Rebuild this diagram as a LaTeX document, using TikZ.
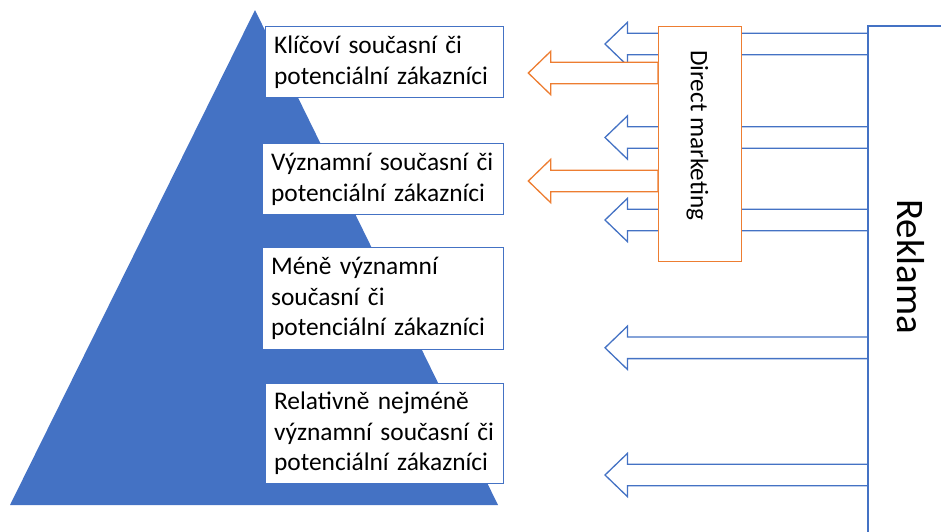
\documentclass[tikz,border=0pt]{standalone}
\usepackage{fontspec}
\setmainfont{Carlito}
\newfontfamily\tierfont{Carlito}[WordSpace=0.6]
\definecolor{oblue}{HTML}{4472C4}
\definecolor{oorange}{HTML}{ED7D31}
\tikzset{
  tier/.style={draw=oblue, fill=white, line width=1.2pt, anchor=north west,
    inner xsep=8.5pt, inner ysep=0pt, align=left,
    font=\tierfont\fontsize{25.4}{30.5}\selectfont},
  dmbox/.style={draw=oorange, fill=white, line width=1.3pt, anchor=north west,
    inner sep=0pt, minimum width=83pt, minimum height=235pt},
  barrow/.style={draw=oblue, fill=white, line width=1.3pt, line join=miter},
  oarrow/.style={draw=oorange, fill=white, line width=1.3pt, line join=miter}
}
\newcommand\blockarrow[5]{% style, tipx, cy, basex, rightx
  \draw[#1] (#2,#3) -- (#4,#3-21.7) -- (#4,#3-10.8) -- (#5,#3-10.8)
    -- (#5,#3+10.8) -- (#4,#3+10.8) -- (#4,#3+21.7) -- cycle;}
\begin{document}
\begin{tikzpicture}[x=1pt,y=-1pt]
\useasboundingbox (0,0) rectangle (941,531);
% pyramid
\fill[oblue] (255,10) -- (498,505) -- (10,505) -- cycle;
% tiers
\node[tier, text width=221pt, minimum height=71pt] (t1) at (265,26)
  {Klíčoví současní či\\potenciální zákazníci};
\node[tier, text width=224pt, minimum height=71pt] (t2) at (262,143)
  {Významní současní či\\potenciální zákazníci};
\node[tier, text width=224pt, minimum height=102pt] (t3) at (262,247)
  {Méně významní\\současní či\\potenciální zákazníci};
\node[tier, text width=221pt, minimum height=100pt] (t4) at (265,383)
  {Relativně nejméně\\významní současní či\\potenciální zákazníci};
% blue (advertising) arrows
\blockarrow{barrow}{605}{44}{627.5}{868}
\blockarrow{barrow}{605}{137.5}{627.5}{868}
\blockarrow{barrow}{605}{220}{627.5}{868}
\blockarrow{barrow}{605}{347.8}{627.5}{868}
\blockarrow{barrow}{605}{475}{627.5}{868}
% Reklama frame
\draw[oblue, line width=1.3pt] (945,26) -- (868,26) -- (868,535);
\node[rotate=-90, anchor=west, inner sep=0pt, font=\fontsize{39}{39}\selectfont] (rek) at (911,199) {Reklama};
% direct marketing
\node[dmbox] (dm) at (658,26) {};
\node[rotate=-90, anchor=west, inner sep=0pt, font=\fontsize{25.2}{25.2}\selectfont] (dmt) at (697.5,50) {Direct marketing};
\blockarrow{oarrow}{528.3}{73}{550.7}{658}
\blockarrow{oarrow}{528.3}{181}{550.7}{658}
\end{tikzpicture}
\end{document}
